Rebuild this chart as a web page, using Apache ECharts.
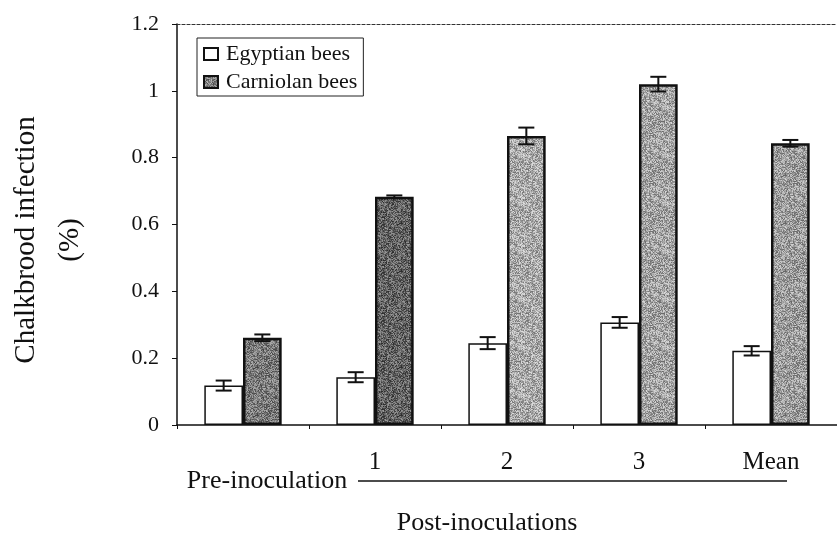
<!DOCTYPE html>
<html>
<head>
<meta charset="utf-8">
<script src="https://cdn.jsdelivr.net/npm/echarts@6/dist/echarts.min.js"></script>
<style>html,body{margin:0;padding:0;background:#fff}#c{width:837px;height:533px}</style>
</head>
<body>
<div id="c"></div>
<script>
const categories = ['', '1', '2', '3', 'Mean'];
const egyptian = [0.118, 0.143, 0.245, 0.307, 0.222];
const egyptianErr = [0.015, 0.015, 0.018, 0.016, 0.014];
const carniolan = [0.261, 0.683, 0.865, 1.020, 0.843];
const carniolanErr = [0.010, 0.004, 0.025, 0.022, 0.010];
const carniolanShades = [122, 98, 168, 162, 156];
const yTicks = { min: 0, max: 1.2, interval: 0.2 };

const FONT = 'Liberation Serif';
const BAR_FRAC = 0.293;

// mottled print-like texture (deterministic hash, styling only)
function texture(base) {
  const s = 48;
  const cv = document.createElement('canvas');
  cv.width = s; cv.height = s;
  const ctx = cv.getContext('2d');
  const img = ctx.createImageData(s, s);
  for (let y = 0; y < s; y++) {
    for (let x = 0; x < s; x++) {
      let h = (x * 374761393 + y * 668265263) ^ 0x5bd1e995;
      h = Math.imul(h ^ (h >>> 13), 1274126177);
      h = (h ^ (h >>> 16)) >>> 0;
      const n = (h % 1000) / 1000 - 0.5;
      const g = Math.max(0, Math.min(255, Math.round(base + n * 110)));
      const k = (y * s + x) * 4;
      img.data[k] = g; img.data[k + 1] = g; img.data[k + 2] = g; img.data[k + 3] = 255;
    }
  }
  ctx.putImageData(img, 0, 0);
  return { image: cv, repeat: 'repeat' };
}

const chart = echarts.init(document.getElementById('c'), null, { renderer: 'canvas' });

const errData = [];
egyptian.forEach((v, i) => errData.push([i, v, egyptianErr[i], -1]));
carniolan.forEach((v, i) => errData.push([i, v, carniolanErr[i], 1]));

function renderErr(params, api) {
  const i = api.value(0), v = api.value(1), e = api.value(2), side = api.value(3);
  const band = api.size([1, 0])[0];
  const bw = band * BAR_FRAC;
  const x = api.coord([i, v])[0] + side * bw / 2;
  const yt = api.coord([i, v + e])[1];
  const yb = api.coord([i, v - e])[1];
  const cap = 8;
  const st = { stroke: '#111', lineWidth: 2 };
  return {
    type: 'group',
    children: [
      { type: 'line', shape: { x1: x, y1: yt, x2: x, y2: yb }, style: st },
      { type: 'line', shape: { x1: x - cap, y1: yt, x2: x + cap, y2: yt }, style: st },
      { type: 'line', shape: { x1: x - cap, y1: yb, x2: x + cap, y2: yb }, style: st }
    ]
  };
}

const option = {
  backgroundColor: '#fff',
  animation: false,
  textStyle: { fontFamily: FONT },
  grid: { left: 177, top: 24, width: 665, height: 401, containLabel: false },
  legend: {
    data: ['Egyptian bees', 'Carniolan bees'],
    orient: 'vertical',
    left: 197, top: 38,
    padding: [5, 6, 3, 6],
    itemGap: 6,
    itemWidth: 14, itemHeight: 12,
    borderColor: '#222', borderWidth: 1, borderRadius: 0,
    textStyle: { fontFamily: FONT, fontSize: 22, color: '#111', padding: [0, 0, 0, 3] },
    icon: 'rect'
  },
  xAxis: [{
    type: 'category',
    data: categories,
    axisLine: { lineStyle: { color: '#111', width: 1.5 } },
    axisTick: { show: true, length: 4, lineStyle: { color: '#111' } },
    axisLabel: { fontFamily: FONT, fontSize: 25, color: '#111', margin: 25 },
    splitLine: { show: false }
  }, {
    type: 'category',
    position: 'top',
    data: categories,
    axisLine: { show: true, lineStyle: { color: '#333', width: 1.2, type: [3, 2] } },
    axisTick: { show: false },
    axisLabel: { show: false }
  }],
  yAxis: {
    type: 'value',
    min: yTicks.min, max: yTicks.max, interval: yTicks.interval,
    axisLine: { show: true, lineStyle: { color: '#111', width: 1.5 } },
    axisTick: { show: true, length: 5, lineStyle: { color: '#111' } },
    axisLabel: { fontFamily: FONT, fontSize: 22, color: '#111', margin: 18 },
    splitLine: { show: false }
  },
  series: [
    {
      name: 'Egyptian bees',
      type: 'bar',
      data: egyptian,
      barWidth: (BAR_FRAC * 100) + '%',
      barGap: '0%',
      itemStyle: { color: '#ffffff', borderColor: '#111', borderWidth: 1.5 }
    },
    {
      name: 'Carniolan bees',
      type: 'bar',
      data: carniolan.map((v, i) => ({ value: v, itemStyle: { color: texture(carniolanShades[i]) } })),
      barWidth: (BAR_FRAC * 100) + '%',
      barGap: '0%',
      itemStyle: { color: texture(130), borderColor: '#111', borderWidth: 2.5 }
    },
    {
      name: 'err',
      type: 'custom',
      renderItem: renderErr,
      data: errData,
      encode: { x: 0, y: 1 },
      z: 5,
      silent: true
    }
  ],
  graphic: [
    {
      type: 'text', x: 48, y: 240, rotation: Math.PI / 2,
      style: {
        text: 'Chalkbrood infection\n(%)', fontFamily: FONT, fontSize: 29,
        lineHeight: 44, fill: '#111', align: 'center', verticalAlign: 'middle'
      }
    },
    {
      type: 'text', x: 267, y: 481,
      style: { text: 'Pre-inoculation', fontFamily: FONT, fontSize: 26, fill: '#111', align: 'center', verticalAlign: 'middle' }
    },
    {
      type: 'line', shape: { x1: 358, y1: 481, x2: 787, y2: 481 },
      style: { stroke: '#111', lineWidth: 1.3 }
    },
    {
      type: 'text', x: 487, y: 523,
      style: { text: 'Post-inoculations', fontFamily: FONT, fontSize: 26, fill: '#111', align: 'center', verticalAlign: 'middle' }
    }
  ]
};
chart.setOption(option);
</script>
</body>
</html>
